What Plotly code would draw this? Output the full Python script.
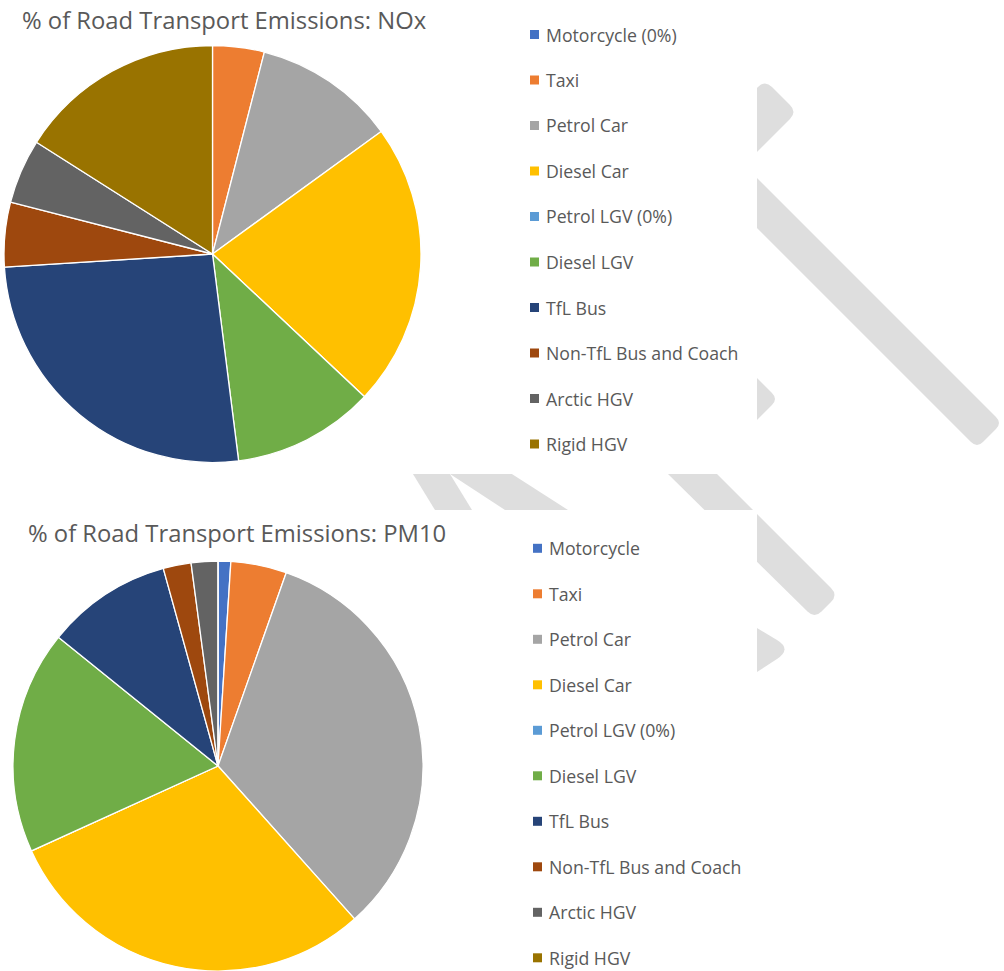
import plotly.graph_objects as go

# ---- data -------------------------------------------------------------
nox_labels = ["Motorcycle (0%)", "Taxi", "Petrol Car", "Diesel Car", "Petrol LGV (0%)",
              "Diesel LGV", "TfL Bus", "Non-TfL Bus and Coach", "Arctic HGV", "Rigid HGV"]
nox_share = [0, 4, 11, 22, 0, 11, 26, 5, 5, 16]

pm10_labels = ["Motorcycle", "Taxi", "Petrol Car", "Diesel Car", "Petrol LGV (0%)",
               "Diesel LGV", "TfL Bus", "Non-TfL Bus and Coach", "Arctic HGV", "Rigid HGV"]
pm10_share = [1.0, 4.4, 33.0, 29.8, 0, 17.6, 9.9, 2.2, 2.1, 0]

titles = ["% of Road Transport Emissions: NOx", "% of Road Transport Emissions: PM10"]

slice_colors = ["#4472C4", "#ED7D31", "#A5A5A5", "#FFC000", "#5B9BD5",
                "#70AD47", "#264478", "#9E480E", "#636363", "#997300"]

# ---- page geometry (pixels) ------------------------------------------
W, H = 1004, 971
FONT = "Open Sans"
TEXT_GREY = "#595959"
MARK_GREY = "#DEDEDE"


def fx(x):
    return x / W


def fy(y):
    return 1 - y / H


def path(cmds):
    out = []
    for c in cmds:
        op, pts = c[0], c[1:]
        if op == "Z":
            out.append("Z")
            continue
        coords = []
        for i in range(0, len(pts), 2):
            coords.append(f"{fx(pts[i]):.5f},{fy(pts[i + 1]):.5f}")
        out.append(op + " " + " ".join(coords))
    return " ".join(out)


fig = go.Figure()

# two pies, slices clockwise from 12 o'clock in the listed order
pie_boxes = [
    dict(x=[4 / W, 421 / W], y=[fy(462.5), fy(45.5)]),
    dict(x=[13 / W, 423 / W], y=[0.0, fy(561)]),
]
for labels, values, box in [(nox_labels, nox_share, pie_boxes[0]),
                            (pm10_labels, pm10_share, pie_boxes[1])]:
    fig.add_trace(go.Pie(
        labels=labels,
        values=values,
        sort=False,
        direction="clockwise",
        rotation=0,
        textinfo="none",
        showlegend=False,
        domain=box,
        marker=dict(colors=slice_colors, line=dict(color="white", width=1.3)),
        hoverinfo="label+percent",
    ))

shapes = []

# light grey watermark strokes behind the two chart panels
stroke_paths = [
    [("M", 700, 145), ("L", 758, 87), ("Q", 765, 80, 772, 87), ("L", 790, 105),
     ("Q", 797, 112, 790, 119), ("L", 700, 209), ("Z",)],
    [("M", 700, 121), ("L", 996, 417), ("Q", 1002, 423, 996, 429), ("L", 983, 442),
     ("Q", 977, 448, 971, 442), ("L", 700, 171), ("Z",)],
    [("M", 740, 361), ("L", 772, 393), ("Q", 778, 399, 772, 405), ("L", 740, 437), ("Z",)],
    [("M", 404.4, 460), ("L", 441.4, 460), ("L", 478.1, 520), ("L", 441.1, 520), ("Z",)],
    [("M", 428.6, 460), ("L", 490.2, 460), ("L", 583.6, 520), ("L", 520.3, 520), ("Z",)],
    [("M", 653.8, 460), ("L", 703, 460), ("L", 831, 588), ("Q", 838, 595, 831, 602),
     ("L", 821.5, 611.5), ("Q", 814.5, 618.5, 807.5, 611.6), ("Z",)],
    [("M", 740, 617.8), ("L", 777, 640), ("Q", 792, 649, 777, 659), ("L", 740, 683), ("Z",)],
]
for p in stroke_paths:
    shapes.append(dict(type="path", xref="paper", yref="paper", path=path(p),
                       fillcolor=MARK_GREY, line=dict(width=0), layer="below"))

# white chart panels
for (x0, y0, x1, y1) in [(0, 0, 757, 474), (0, 510, 757, 971)]:
    shapes.append(dict(type="rect", xref="paper", yref="paper",
                       x0=fx(x0), x1=fx(x1), y0=fy(y1), y1=fy(y0),
                       fillcolor="white", line=dict(width=0), layer="below"))

annotations = []

# chart titles
for title, (tx, ty) in zip(titles, [(20, 20), (26, 533)]):
    annotations.append(dict(text=title, xref="paper", yref="paper", x=fx(tx), y=fy(ty),
                            xanchor="left", yanchor="middle", showarrow=False,
                            font=dict(family=FONT, size=23.8, color=TEXT_GREY)))

# legends: coloured square + label per category
legend_specs = [
    (nox_labels, 534.5, 34.5, 543.5),
    (pm10_labels, 537.5, 548.3, 546.5),
]
ROW = 45.5
SQ = 9
for labels, mx, y0, tx in legend_specs:
    for i, (lab, col) in enumerate(zip(labels, slice_colors)):
        yc = y0 + i * ROW
        shapes.append(dict(type="rect", xref="paper", yref="paper",
                           x0=fx(mx - SQ / 2), x1=fx(mx + SQ / 2),
                           y0=fy(yc + SQ / 2), y1=fy(yc - SQ / 2),
                           fillcolor=col, line=dict(width=0)))
        annotations.append(dict(text=lab, xref="paper", yref="paper", x=fx(tx), y=fy(yc),
                                xanchor="left", yanchor="middle", showarrow=False,
                                font=dict(family=FONT, size=17.7, color=TEXT_GREY)))

fig.update_layout(
    width=W, height=H,
    margin=dict(l=0, r=0, t=0, b=0),
    paper_bgcolor="white",
    plot_bgcolor="white",
    shapes=shapes,
    annotations=annotations,
)

fig.write_html("out.html")
